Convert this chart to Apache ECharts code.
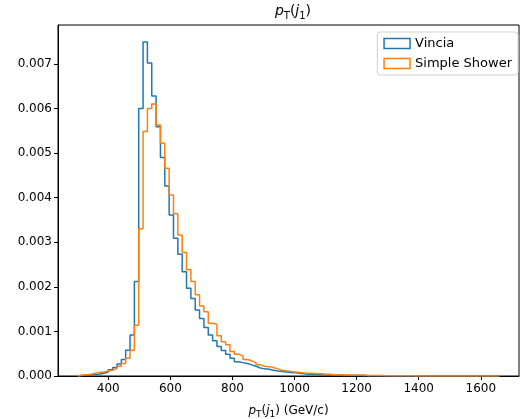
<!DOCTYPE html>
<html>
<head>
<meta charset="utf-8">
<script src="https://cdn.jsdelivr.net/npm/echarts@6/dist/echarts.min.js"></script>
<style>
html,body{margin:0;padding:0;background:#fff;}
#chart{width:520px;height:419px;}
</style>
</head>
<body>
<div id="chart"></div>
<script>
// Histogram bin edges (GeV/c)
var binEdges = [302,316,330,344,358,372,386,400,414,428,442,456,470,484,498,512,526,540,554,568,582,596,610,624,638,652,666,680,694,708,722,736,750,764,778,792,806,820,834,848,862,876,890,904,918,932,946,960,974,988,1002,1016,1030,1044,1058,1072,1086,1100,1114,1128,1142,1156,1170,1184,1198,1212,1226,1240,1254,1268,1282,1296,1310,1324,1338,1352,1366,1380,1394,1408,1422,1436,1450,1464,1478,1492,1506,1520,1534,1548,1562,1576,1590,1604,1618,1632,1646,1660];

var vincia = [0.00001,0.00002,0.00002,0.00003,0.00004,0.00006,0.00009,0.00014,0.00019,0.00027,0.00037,0.00058,0.00092,0.00212,0.00600,0.00749,0.00702,0.00628,0.00559,0.00490,0.00426,0.00361,0.00309,0.00273,0.00234,0.00197,0.00174,0.00148,0.00129,0.00109,0.00092,0.00079,0.00066,0.00057,0.00049,0.00040,0.00032,0.00030,0.00028,0.00025,0.00022,0.00018,0.00016,0.00015,0.00013,0.00011,0.00010,0.00009,0.00008,0.00007,0.00006,0.00005,0.00004,0.00004,0.00003,0.00003,0.00002,0.00002,0.00002,0.00002,0.00001,0.00001,0.00001,0.00001,0.00001,0.000005,0.000005,0.000005,0.000005,0.000003,0.000003,0.000003,0.000002,0.000002,0.000002,0.000002,0,0.000002,0,0,0.000002,0,0,0,0,0,0,0,0,0,0,0,0,0,0,0,0];

var simpleShower = [0.00002,0.00003,0.00004,0.00006,0.00008,0.00009,0.00011,0.00013,0.00017,0.00022,0.00028,0.00040,0.00058,0.00114,0.00330,0.00548,0.00600,0.00610,0.00563,0.00522,0.00466,0.00406,0.00364,0.00316,0.00277,0.00238,0.00212,0.00182,0.00157,0.00144,0.00118,0.00116,0.00090,0.00077,0.00070,0.00055,0.00049,0.00045,0.00037,0.00034,0.00030,0.00025,0.00022,0.00021,0.00019,0.00016,0.00013,0.00012,0.00010,0.00009,0.00008,0.00007,0.00006,0.00006,0.00005,0.00005,0.00004,0.00004,0.00003,0.00003,0.00003,0.00002,0.00002,0.00002,0.00002,0.00002,0.00001,0.00001,0.00001,0.00001,0.000005,0.000005,0.000005,0.000005,0.000003,0.000003,0.000003,0.000002,0.000002,0.000002,0.000002,0.000002,0,0.000002,0,0,0.000002,0,0,0,0,0,0,0,0,0,0];

var xTicks = [400,600,800,1000,1200,1400,1600];
var seriesNames = ['Vincia','Simple Shower'];
var colors = ['#1f77b4','#ff7f0e'];

function stepPoints(edges, vals){
  var pts = [[edges[0],0]];
  for (var i=0;i<vals.length;i++){
    pts.push([edges[i],vals[i]]);
    pts.push([edges[i+1],vals[i]]);
  }
  pts.push([edges[vals.length],0]);
  return pts;
}

var FONT = 'DejaVu Sans';
var chart = echarts.init(document.getElementById('chart'), null, {renderer:'canvas'});
var labelRich = {
  i:{fontFamily:FONT,fontStyle:'italic',fontWeight:'normal',fontSize:12,color:'#000',lineHeight:16,verticalAlign:'middle'},
  s:{fontFamily:FONT,fontWeight:'normal',fontSize:9,color:'#000',lineHeight:16,verticalAlign:'bottom'},
  n:{fontFamily:FONT,fontWeight:'normal',fontSize:12,color:'#000',lineHeight:16,verticalAlign:'middle'}
};
var titleRich = {
  i:{fontFamily:FONT,fontStyle:'italic',fontWeight:'normal',fontSize:14,color:'#000',lineHeight:19,verticalAlign:'middle'},
  s:{fontFamily:FONT,fontWeight:'normal',fontSize:10,color:'#000',lineHeight:19,verticalAlign:'bottom'},
  n:{fontFamily:FONT,fontWeight:'normal',fontSize:14,color:'#000',lineHeight:19,verticalAlign:'middle'}
};

chart.setOption({
  animation:false,
  backgroundColor:'#fff',
  title:{
    text:'{i|p}{s|T}{n|(}{i|j}{s|1}{n|)}',
    left:288, top:0, padding:[2,5,2,5], textAlign:'center',
    textStyle:{fontWeight:'normal',rich:titleRich}
  },
  legend:{
    orient:'vertical',
    right:2, top:32,
    padding:[5,6,5,6],
    itemGap:7,
    itemWidth:26, itemHeight:10,
    backgroundColor:'#fff',
    borderColor:'#d0d0d0', borderWidth:1, borderRadius:3,
    textStyle:{fontFamily:FONT,fontSize:13,color:'#000'},
    data:[
      {name:seriesNames[0],icon:'rect',itemStyle:{color:'#fff',borderColor:colors[0],borderWidth:1.5}},
      {name:seriesNames[1],icon:'rect',itemStyle:{color:'#fff',borderColor:colors[1],borderWidth:1.5}}
    ]
  },
  grid:{left:58,right:1,top:25,bottom:43,outerBoundsMode:'none',containLabel:false,
    show:true,borderColor:'#000',borderWidth:1,backgroundColor:'transparent'},
  xAxis:{
    type:'value', min:238, max:1723,
    name:'{i|p}{s|T}{n|(}{i|j}{s|1}{n|) (GeV/c)}',
    nameLocation:'middle', nameGap:27,
    nameTextStyle:{fontWeight:'normal',rich:labelRich},
    axisLine:{onZero:false,lineStyle:{color:'#000',width:1}},
    axisTick:{customValues:xTicks,length:4,lineStyle:{color:'#000'}},
    axisLabel:{customValues:xTicks,fontFamily:FONT,fontSize:12,color:'#000',margin:7,
      formatter:function(v){return String(Math.round(v));}},
    splitLine:{show:false}
  },
  yAxis:{
    type:'value', min:0, max:0.00787, interval:0.001,
    axisLine:{show:true,lineStyle:{color:'#000',width:1}},
    axisTick:{show:true,length:4,lineStyle:{color:'#000'}},
    axisLabel:{fontFamily:FONT,fontSize:12,color:'#000',margin:6,
      formatter:function(v){return v.toFixed(3);},showMaxLabel:false},
    splitLine:{show:false}
  },
  series:[
    {name:seriesNames[0],type:'line',data:stepPoints(binEdges,vincia),showSymbol:false,symbol:'none',
     lineStyle:{color:colors[0],width:1.5},itemStyle:{color:colors[0]},clip:true},
    {name:seriesNames[1],type:'line',data:stepPoints(binEdges,simpleShower),showSymbol:false,symbol:'none',
     lineStyle:{color:colors[1],width:1.5},itemStyle:{color:colors[1]},clip:true}
  ]
});
</script>
</body>
</html>
